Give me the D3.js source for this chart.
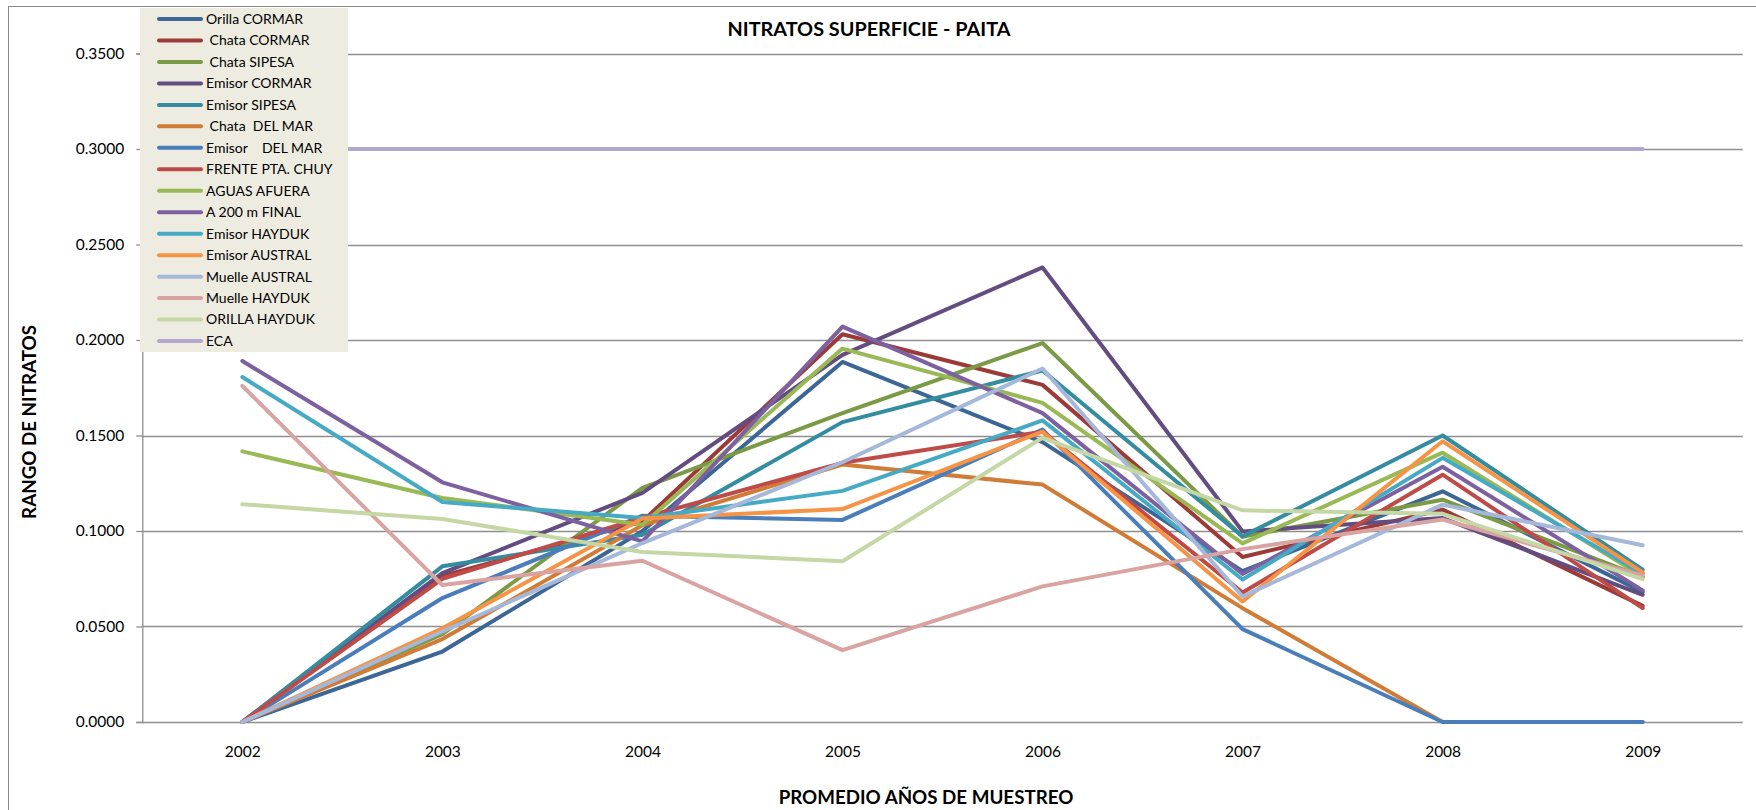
<!DOCTYPE html>
<html>
<head>
<meta charset="utf-8">
<script src="https://cdn.jsdelivr.net/npm/d3@7/dist/d3.min.js"></script>
<style>
  html, body { margin: 0; padding: 0; background: #fff; }
  svg { display: block; }
  text { font-family: Lato, "Open Sans", "Noto Sans", sans-serif; fill: #000; }
</style>
</head>
<body>
<svg id="chart" width="1756" height="810"></svg>
<script>
// ---------------- DATA ----------------
const years = ["2002", "2003", "2004", "2005", "2006", "2007", "2008", "2009"];
const yTicks = [0, 0.05, 0.10, 0.15, 0.20, 0.25, 0.30, 0.35];

const seriesNames = [
  "Orilla CORMAR", " Chata CORMAR", " Chata SIPESA", "Emisor CORMAR", "Emisor SIPESA",
  " Chata  DEL MAR", "Emisor    DEL MAR", "FRENTE PTA. CHUY", "AGUAS AFUERA", "A 200 m FINAL",
  "Emisor HAYDUK", "Emisor AUSTRAL", "Muelle AUSTRAL", "Muelle HAYDUK", "ORILLA HAYDUK", "ECA"
];

const orillaCormar   = [0, 0.0369, 0.1000, 0.1885, 0.1465, 0.0790, 0.1208, 0.0680];
const chataCormar    = [0, 0.0765, 0.1050, 0.2030, 0.1765, 0.0864, 0.1112, 0.0608];
const chataSipesa    = [0, 0.0460, 0.1226, 0.1617, 0.1984, 0.0970, 0.1164, 0.0758];
const emisorCormar   = [0, 0.0780, 0.1200, 0.1922, 0.2380, 0.0998, 0.1068, 0.0666];
const emisorSipesa   = [0, 0.0815, 0.0980, 0.1570, 0.1840, 0.0972, 0.1500, 0.0797];
const chataDelMar    = [0, 0.0434, 0.1030, 0.1348, 0.1243, 0.0596, 0, 0];
const emisorDelMar   = [0, 0.0649, 0.1080, 0.1058, 0.1531, 0.0486, 0, 0];
const frentePtaChuy  = [0, 0.0750, 0.1070, 0.1357, 0.1520, 0.0678, 0.1295, 0.0596];
const aguasAfuera    = [0.1417, 0.1173, 0.1033, 0.1955, 0.1671, 0.0935, 0.1410, 0.0760];
const a200mFinal     = [0.1890, 0.1255, 0.0946, 0.2070, 0.1617, 0.0775, 0.1336, 0.0689];
const emisorHayduk   = [0.1806, 0.1152, 0.1068, 0.1210, 0.1579, 0.0746, 0.1383, 0.0776];
const emisorAustral  = [0, 0.0491, 0.1065, 0.1115, 0.1520, 0.0631, 0.1470, 0.0783];
const muelleAustral  = [0, 0.0474, 0.0937, 0.1360, 0.1851, 0.0657, 0.1138, 0.0925];
const muelleHayduk   = [0.1760, 0.0717, 0.0844, 0.0376, 0.0710, 0.0905, 0.1060, 0.0766];
const orillaHayduk   = [0.1140, 0.1063, 0.0890, 0.0842, 0.1488, 0.1108, 0.1090, 0.0748];
const eca            = [0.30, 0.30, 0.30, 0.30, 0.30, 0.30, 0.30, 0.30];

const seriesColors = [
  "#3c6696", "#9b3a37", "#7a9a45", "#634c80", "#348ca0", "#d07b36",
  "#4a7ebb", "#be4b48", "#98b954", "#7d60a0", "#46aac5", "#f69446",
  "#a5b8da", "#d9a3a1", "#c4d7a4", "#b4a7cc"
];

const seriesValues = [
  orillaCormar, chataCormar, chataSipesa, emisorCormar, emisorSipesa, chataDelMar,
  emisorDelMar, frentePtaChuy, aguasAfuera, a200mFinal, emisorHayduk, emisorAustral,
  muelleAustral, muelleHayduk, orillaHayduk, eca
];

const series = seriesNames.map((name, i) => ({ name, color: seriesColors[i], values: seriesValues[i] }));

// ---------------- LAYOUT ----------------
const W = 1756, H = 810;
const plot = { left: 142.3, right: 1742.7, top: 53.5, bottom: 722 };

const svg = d3.select("#chart");
svg.append("rect").attr("width", W).attr("height", H).attr("fill", "#fff");
// chart area border
svg.append("rect").attr("x", 8.5).attr("y", 6.5).attr("width", 1800).attr("height", 900)
  .attr("fill", "none").attr("stroke", "#8a8a8a").attr("stroke-width", 1);

const x = d3.scalePoint().domain(years).range([plot.left, plot.right]).padding(0.5);
const y = d3.scaleLinear().domain([0, 0.35]).range([plot.bottom, plot.top]);

// gridlines
svg.append("g").selectAll("line").data(yTicks).join("line")
  .attr("x1", plot.left).attr("x2", plot.right)
  .attr("y1", d => Math.round(y(d)) + 0.5).attr("y2", d => Math.round(y(d)) + 0.5)
  .attr("stroke", "#8e8e8e").attr("stroke-width", 1.3);

// y axis
const yAxis = d3.axisLeft(y).tickValues(yTicks).tickFormat(d3.format(".4f")).tickSize(6).tickPadding(12);
const gy = svg.append("g").attr("transform", `translate(${plot.left},0)`).call(yAxis);
gy.select(".domain").attr("stroke", "#8e8e8e").attr("stroke-width", 1.3);
gy.selectAll(".tick line").attr("stroke", "#8e8e8e").attr("stroke-width", 1.3);
gy.selectAll(".tick text").style("font-size", "15.5px").style("font-family", "Lato, sans-serif").attr("fill", "#000");

// x axis labels
const xAxis = d3.axisBottom(x).tickSize(0).tickPadding(24);
const gx = svg.append("g").attr("transform", `translate(0,${plot.bottom})`).call(xAxis);
gx.select(".domain").remove();
gx.selectAll(".tick text").style("font-size", "15.5px").style("font-family", "Lato, sans-serif").attr("fill", "#000");

// lines
const line = d3.line().x((d, i) => x(years[i])).y(d => y(d));
svg.append("g").selectAll("path").data(series).join("path")
  .attr("d", d => line(d.values))
  .attr("fill", "none")
  .attr("stroke", d => d.color)
  .attr("stroke-width", 4)
  .attr("stroke-linejoin", "round")
  .attr("stroke-linecap", "round");

// titles
function fitWidth(sel, target) {
  const w = sel.node().getComputedTextLength();
  const fs = parseFloat(sel.style("font-size"));
  sel.style("font-size", (fs * target / w) + "px");
}
const title = svg.append("text").attr("x", 869).attr("y", 36).attr("text-anchor", "middle")
  .style("font-weight", "bold").style("font-size", "17px").text("NITRATOS SUPERFICIE - PAITA");
fitWidth(title, 283);

const xTitle = svg.append("text").attr("x", 926).attr("y", 804).attr("text-anchor", "middle")
  .style("font-weight", "bold").style("font-size", "17px").text("PROMEDIO AÑOS DE MUESTREO");
fitWidth(xTitle, 295);

const yTitle = svg.append("text").attr("transform", "translate(36,422) rotate(-90)").attr("text-anchor", "middle")
  .style("font-weight", "bold").style("font-size", "17px").text("RANGO DE NITRATOS");
fitWidth(yTitle, 194);

// legend
const legend = svg.append("g");
legend.append("rect").attr("x", 140).attr("y", 8).attr("width", 208).attr("height", 344).attr("fill", "#eeece1");
const itemY = i => 19 + i * 21.47;
const items = legend.selectAll("g.item").data(series).join("g").attr("class", "item")
  .attr("transform", (d, i) => `translate(0,${itemY(i)})`);
items.append("line").attr("x1", 159).attr("x2", 201).attr("y1", 0).attr("y2", 0)
  .attr("stroke", d => d.color).attr("stroke-width", 4).attr("stroke-linecap", "round");
items.append("text").attr("x", 206).attr("y", 0).attr("dy", "0.35em")
  .style("font-size", "14px").style("white-space", "pre").attr("xml:space", "preserve")
  .text(d => d.name);
</script>
</body>
</html>
